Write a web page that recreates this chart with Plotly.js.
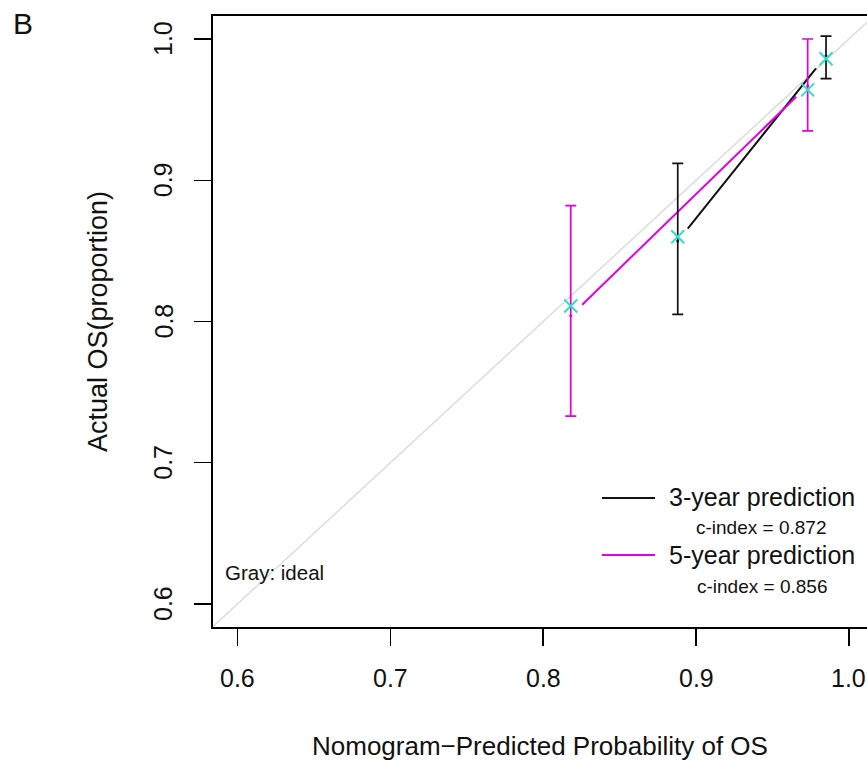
<!DOCTYPE html>
<html>
<head>
<meta charset="utf-8">
<script src="https://cdn.plot.ly/plotly-3.0.1.min.js"></script>
<style>html,body{margin:0;padding:0;background:#fff;}#chart{width:867px;height:760px;}</style>
</head>
<body>
<div id="chart"></div>
<script>
// ---- data ----
const pred3 = [0.888, 0.985];
const km3 = [0.857, 0.988];
const corr3 = [0.860, 0.986];
const lo3 = [0.805, 0.972];
const hi3 = [0.912, 1.002];

const pred5 = [0.818, 0.973];
const km5 = [0.804, 0.967];
const corr5 = [0.811, 0.964];
const lo5 = [0.733, 0.935];
const hi5 = [0.882, 1.000];

const idealLine = [0.584, 1.016];
const tickVals = [0.6, 0.7, 0.8, 0.9, 1.0];
const tickText = ['0.6', '0.7', '0.8', '0.9', '1.0'];
const cIndex3 = '0.872';
const cIndex5 = '0.856';

// ---- layout constants ----
const W = 867, H = 760;
const mL = 213, mR = 0, mT = 16, mB = 133;
const xr = [0.584, 1.0118];
const yr = [0.5837, 1.0163];
const pw = W - mL - mR, ph = H - mT - mB;
const sx = pw / (xr[1] - xr[0]), sy = ph / (yr[1] - yr[0]);
const GAP = 16; // px gap around points (R type="b")

function gapped(xs, ys) {
  const ox = [], oy = [];
  for (let i = 0; i < xs.length - 1; i++) {
    const dx = xs[i+1] - xs[i], dy = ys[i+1] - ys[i];
    const len = Math.hypot(dx * sx, dy * sy);
    const f = GAP / len;
    ox.push(xs[i] + f * dx, xs[i+1] - f * dx, null);
    oy.push(ys[i] + f * dy, ys[i+1] - f * dy, null);
  }
  return [ox, oy];
}

const BLACK = '#111111', MAG = '#E000E0', CYAN = '#35DCCB', GRAY = '#dcdcdc';
const l3 = gapped(pred3, km3), l5 = gapped(pred5, km5);

const traces = [
  {x: idealLine, y: idealLine, mode: 'lines', line: {color: GRAY, width: 1.5}, hoverinfo: 'skip'},
  {x: l3[0], y: l3[1], mode: 'lines', line: {color: BLACK, width: 2}, connectgaps: false},
  {x: l5[0], y: l5[1], mode: 'lines', line: {color: MAG, width: 2}, connectgaps: false},
  {x: pred3, y: km3, mode: 'markers', marker: {color: BLACK, size: 3},
   error_y: {type: 'data', symmetric: false,
     array: hi3.map((v, i) => v - km3[i]), arrayminus: km3.map((v, i) => v - lo3[i]),
     color: BLACK, thickness: 1.7, width: 5.5}},
  {x: pred5, y: km5, mode: 'markers', marker: {color: MAG, size: 3},
   error_y: {type: 'data', symmetric: false,
     array: hi5.map((v, i) => v - km5[i]), arrayminus: km5.map((v, i) => v - lo5[i]),
     color: MAG, thickness: 1.7, width: 5.5}},
  {x: pred3, y: corr3, mode: 'markers', marker: {symbol: 'x-thin-open', size: 13, color: CYAN, line: {color: CYAN, width: 2}}},
  {x: pred5, y: corr5, mode: 'markers', marker: {symbol: 'x-thin-open', size: 13, color: CYAN, line: {color: CYAN, width: 2}}}
];

const px = p => (p - mL) / pw;
const py = p => (H - mB - p) / ph;
const F = 'Liberation Sans, Arial, sans-serif';

const tickAnn = [];
tickVals.forEach((v, i) => {
  tickAnn.push({text: tickText[i], xref: 'x', yref: 'paper', x: v, y: py(678), xanchor: 'center', yanchor: 'middle',
    showarrow: false, font: {size: 25, family: F, color: '#111'}});
  tickAnn.push({text: tickText[i], xref: 'paper', yref: 'y', x: px(163), y: v, xanchor: 'center', yanchor: 'middle',
    textangle: -90, showarrow: false, font: {size: 25, family: F, color: '#111'}});
});

const layout = {
  width: W, height: H,
  margin: {l: mL, r: mR, t: mT, b: mB, pad: 0},
  paper_bgcolor: '#fff', plot_bgcolor: '#fff',
  showlegend: false,
  font: {family: F, color: '#000'},
  xaxis: {range: xr, showgrid: false, zeroline: false, showline: true, mirror: true,
    linecolor: '#000', linewidth: 2, ticks: 'outside', ticklen: 17, tickwidth: 1.5, tickcolor: '#000',
    tickvals: tickVals, showticklabels: false},
  yaxis: {range: yr, showgrid: false, zeroline: false, showline: true, mirror: false,
    linecolor: '#000', linewidth: 2, ticks: 'outside', ticklen: 17, tickwidth: 1.5, tickcolor: '#000',
    tickvals: tickVals, showticklabels: false},
  shapes: [
    {type: 'line', xref: 'paper', yref: 'paper', x0: px(602), x1: px(655), y0: py(498), y1: py(498), line: {color: BLACK, width: 2}},
    {type: 'line', xref: 'paper', yref: 'paper', x0: px(602), x1: px(655), y0: py(555), y1: py(555), line: {color: MAG, width: 2}}
  ],
  annotations: tickAnn.concat([
    {text: '3-year prediction', xref: 'paper', yref: 'paper', x: px(667), y: py(497), xanchor: 'left', yanchor: 'middle', showarrow: false, font: {size: 25, family: F, color: '#111'}},
    {text: 'c-index = ' + cIndex3, xref: 'paper', yref: 'paper', x: px(761), y: py(527), xanchor: 'center', yanchor: 'middle', showarrow: false, font: {size: 19, family: F, color: '#111'}},
    {text: '5-year prediction', xref: 'paper', yref: 'paper', x: px(667), y: py(555), xanchor: 'left', yanchor: 'middle', showarrow: false, font: {size: 25, family: F, color: '#111'}},
    {text: 'c-index = ' + cIndex5, xref: 'paper', yref: 'paper', x: px(762), y: py(586), xanchor: 'center', yanchor: 'middle', showarrow: false, font: {size: 19, family: F, color: '#111'}},
    {text: 'Gray: ideal', xref: 'paper', yref: 'paper', x: px(223), y: py(572), xanchor: 'left', yanchor: 'middle', showarrow: false, font: {size: 20.5, family: F, color: '#111'}},
    {text: 'B', xref: 'paper', yref: 'paper', x: px(11), y: py(24), xanchor: 'left', yanchor: 'middle', showarrow: false, font: {size: 30, family: F, color: '#111'}},
    {text: 'Nomogram\u2212Predicted Probability of OS', xref: 'paper', yref: 'paper', x: px(540), y: py(746), xanchor: 'center', yanchor: 'middle', showarrow: false, font: {size: 26, family: F, color: '#111'}},
    {text: 'Actual OS(proportion)', xref: 'paper', yref: 'paper', x: px(98), y: py(322), xanchor: 'center', yanchor: 'middle', textangle: -90, showarrow: false, font: {size: 27, family: F, color: '#111'}}
  ])
};

Plotly.newPlot('chart', traces, layout, {displayModeBar: false, staticPlot: true});
</script>
</body>
</html>
